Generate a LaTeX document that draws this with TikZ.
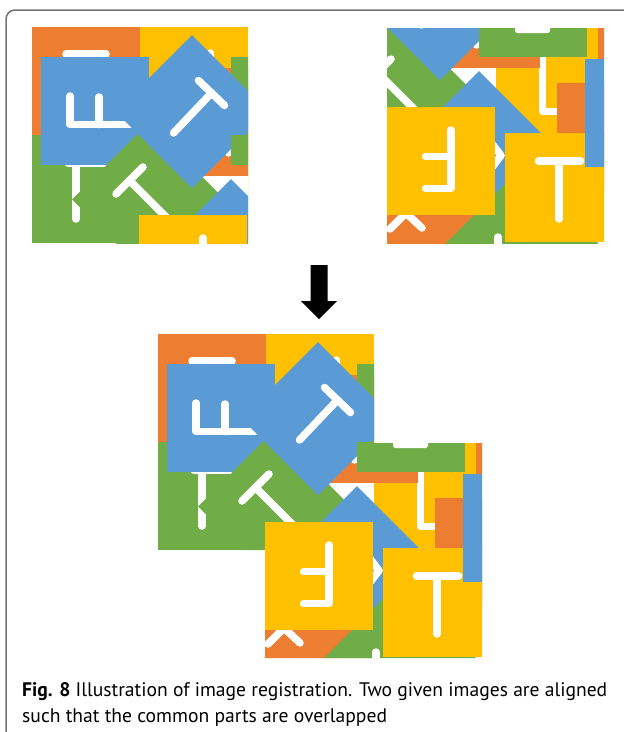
\documentclass[tikz,border=0pt]{standalone}
\usepackage{fontspec}
\setmainfont{PT Sans}
\definecolor{cO}{HTML}{ED7D31}
\definecolor{cY}{HTML}{FFC000}
\definecolor{cG}{HTML}{70AD47}
\definecolor{cB}{HTML}{5B9BD5}
\tikzset{ltr/.style={white, line width=7.5pt, line cap=round, line join=round},
  framepen/.style={draw=black!55, line width=1.5pt},
  captext/.style={anchor=base west, inner sep=0pt, font=\fontsize{19.6}{22}\selectfont}}
\newcommand\regscene{%
  % background tiles
  \fill[cO] (158,334) rectangle (266,442);
  \draw[ltr] (192,361) -- (232,361); \draw[ltr] (202,361) -- (202,400);
  \fill[cY] (266,334) rectangle (374,442);
  \draw[ltr] (336.5,360) -- (336.5,380);
  \fill[cG] (158,442) rectangle (266,550);
  \draw[ltr] (194,470) -- (232,470); \draw[ltr] (202,470) -- (202,526);
  \fill[cY] (374,442) rectangle (482,550);
  \draw[ltr] (420.5,430) -- (420.5,526.5) -- (445,526.5);
  \fill[cO] (310,375) rectangle (418,483);
  \draw[ltr] (354.5,452) -- (354.5,460);
  \fill[cG] (357,364) rectangle (465,442);
  \fill[cO] (476,366) rectangle (584,474);
  % blue F tile
  \fill[cB] (167,364) rectangle (275,472);
  \draw[ltr] (196,403) -- (196,431.5) -- (258,431.5); \draw[ltr] (225,404) -- (225,431.5);
  % green T diamond
  \fill[cG] (274.5,430.1) -- (350.9,506.5) -- (274.5,582.9) -- (198.1,506.5) -- cycle;
  \draw[ltr] (242,501) -- (269,474); \draw[ltr] (255.5,487.5) -- (293,525);
  % blue T diamond
  \fill[cB] (318,342) -- (394.5,418.5) -- (318,495) -- (241.5,418.5) -- cycle;
  \draw[ltr] (324.5,387.5) -- (350.5,412.5); \draw[ltr] (337.5,400) -- (299.5,440);
  % green strip tile
  \fill[cG] (357,442) rectangle (465,472);
  \fill[white, rounded corners=2.5pt] (393,430) rectangle (428,448);
  % blue diamond lower
  \fill[cB] (357,486) -- (433.4,562.4) -- (357,638.8) -- (280.6,562.4) -- cycle;
  \draw[ltr] (364,551) -- (379,570.5) -- (364,590);
  % orange tile right
  \fill[cO] (435,498) rectangle (543,606);
  % orange tile bottom
  \fill[cO] (265,630) rectangle (373,738);
  \draw[ltr] (268,644) -- (284,628) -- (300,643);
  % green diamond bottom
  \fill[cG] (400,582) -- (476.4,658.4) -- (400,734.8) -- (323.6,658.4) -- cycle;
  \draw[ltr] (376,652) -- (376,670);
  % yellow E tile
  \fill[cY] (265,522) rectangle (373,630);
  \draw[ltr] (329,545) -- (329,603.5) -- (303.5,603.5); \draw[ltr] (329,571.5) -- (303.5,571.5);
  % yellow T tile
  \fill[cY] (383,548) rectangle (491,656.5);
  \draw[ltr] (416.5,576) -- (458.5,576); \draw[ltr] (437,576) -- (437,634);
  % blue strip
  \fill[cB] (463,474) rectangle (571,582);
}
\begin{document}
\begin{tikzpicture}[x=1pt,y=-1pt]
\useasboundingbox (0,0) rectangle (624,732);
% frame
\draw[framepen, rounded corners=9pt] (640,10) -- (6,10) -- (6,760);
% source image 1
\begin{scope}[shift={(-126,-307)}]
  \clip (158,334) rectangle (374,550);
  \regscene
\end{scope}
% source image 2
\begin{scope}[shift={(122,-415)}]
  \clip (265,443) rectangle (482,658);
  \regscene
\end{scope}
% arrow
\fill[black] (310.5,265) -- (327.5,265) -- (327.5,301) -- (337,301) -- (319,319) -- (301,301) -- (310.5,301) -- cycle;
% registered result
\begin{scope}
  \clip (158,334) rectangle (374,550) (265,443) rectangle (482,658);
  \regscene
\end{scope}
% caption
\node[captext] (cap1) at (22,696)
  {\textbf{Fig. 8} Illustration of image registration. Two given images are aligned};
\node[captext] (cap2) at (22,722)
  {such that the common parts are overlapped};
\end{tikzpicture}
\end{document}
